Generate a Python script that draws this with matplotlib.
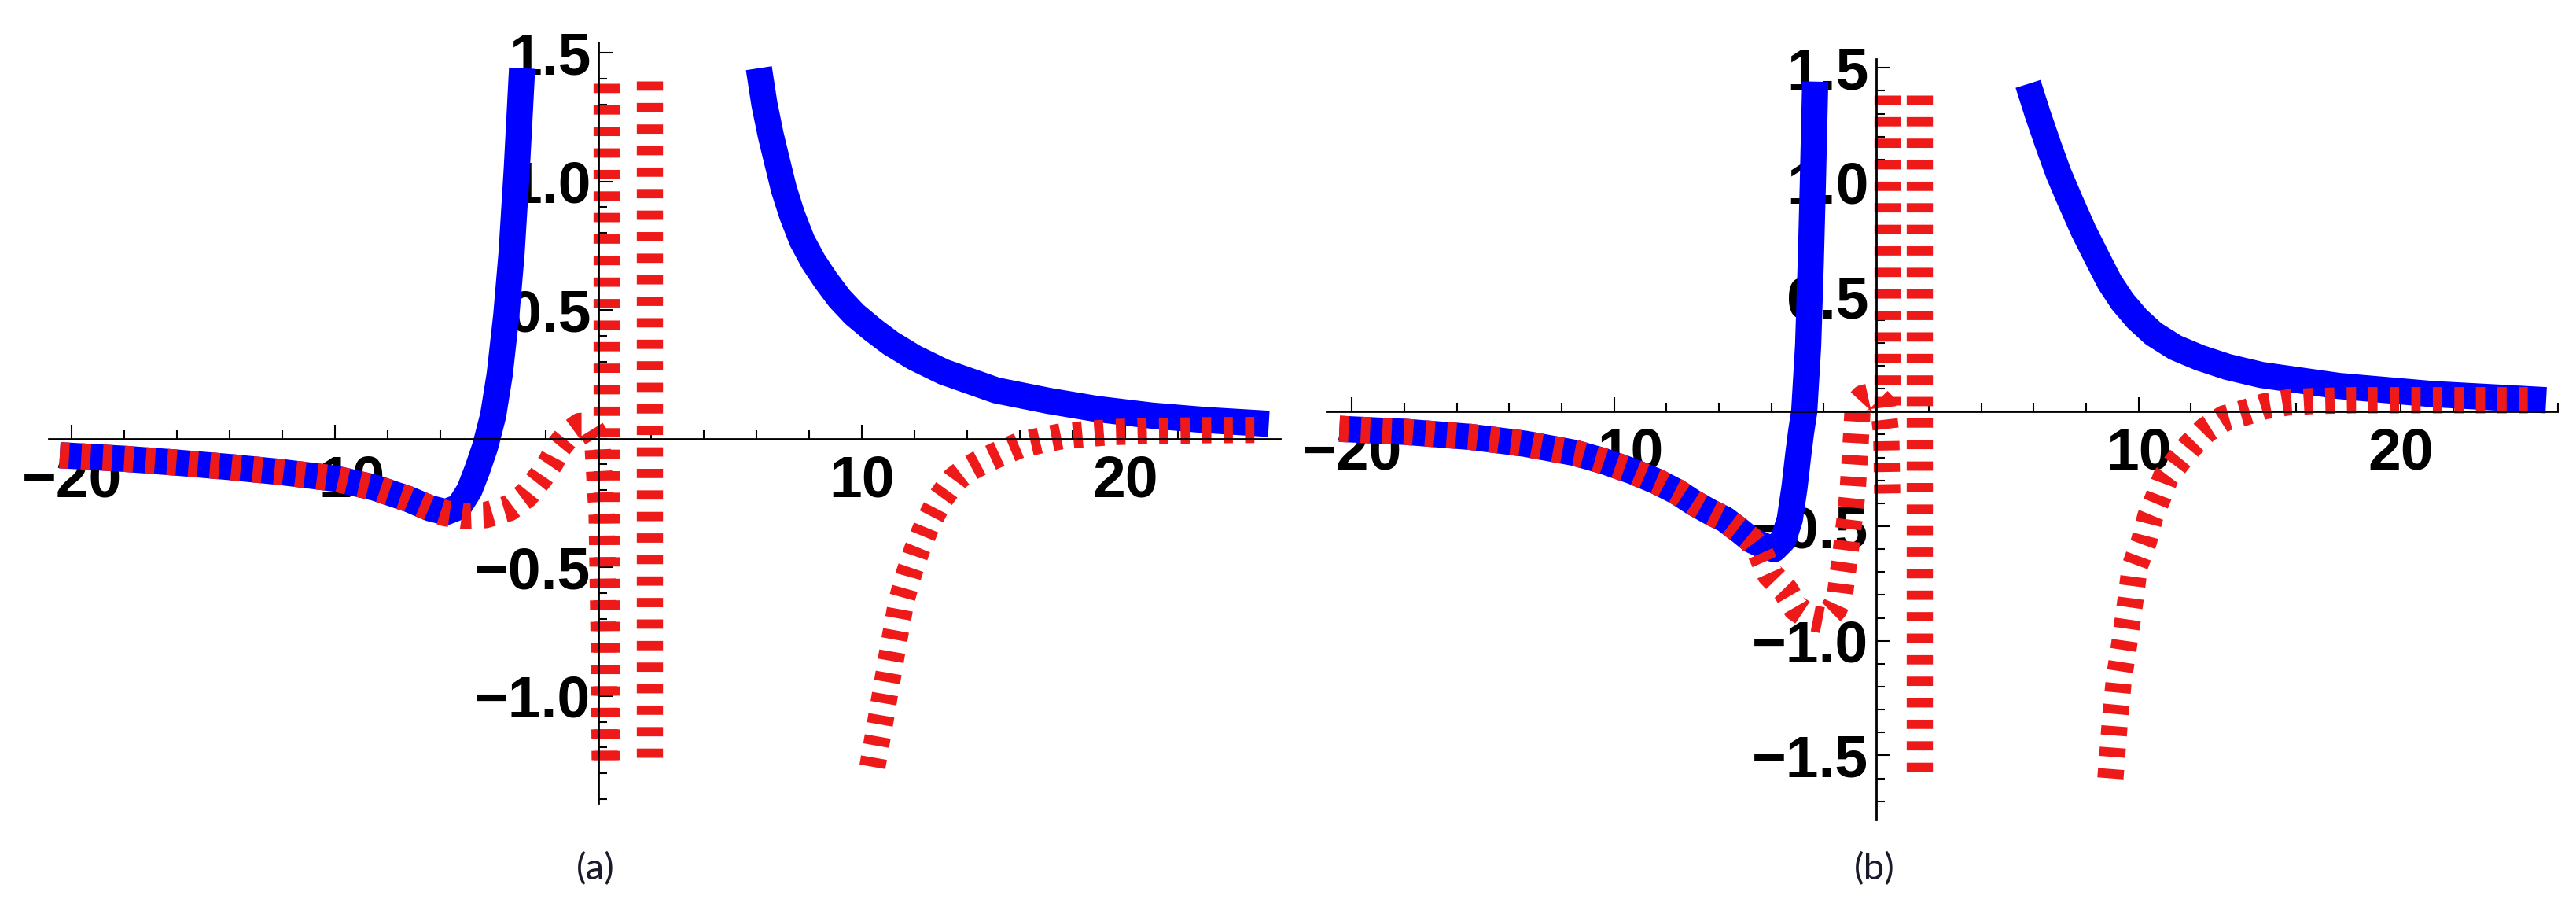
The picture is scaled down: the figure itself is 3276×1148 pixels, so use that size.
import numpy as np
import matplotlib.pyplot as plt
from matplotlib.ticker import FixedLocator, FixedFormatter, MultipleLocator

plt.rcParams['font.family'] = ['Liberation Sans', 'DejaVu Sans']
plt.rcParams['font.weight'] = 'bold'
plt.rcParams['lines.scale_dashes'] = False

# ---- panel (a) data ----
blue_a1_x = [-20.45, -18, -16, -14, -12, -10, -8.5, -7.2, -6.4, -5.8, -5.3, -4.9, -4.6, -4.3, -4.0, -3.75, -3.5, -3.3, -3.1, -2.9]
blue_a1_y = [-0.064, -0.078, -0.093, -0.11, -0.13, -0.155, -0.19, -0.235, -0.27, -0.285, -0.265, -0.2, -0.12, -0.03, 0.09, 0.25, 0.48, 0.72, 1.05, 1.44]
blue_a2_x = [6.09, 6.3, 6.54, 6.8, 7.04, 7.35, 7.73, 8.15, 8.63, 9.15, 9.72, 10.4, 11.1, 12.0, 13.1, 15.1, 17.1, 18.9, 21.0, 23.0, 25.45]
blue_a2_y = [1.44, 1.3, 1.18, 1.07, 0.97, 0.87, 0.77, 0.69, 0.616, 0.545, 0.483, 0.425, 0.371, 0.315, 0.26, 0.188, 0.147, 0.116, 0.09, 0.073, 0.058]

red_a1_x = [-20.45, -18, -16, -14, -12, -10, -8.5, -7.2, -6.4, -5.8, -5.1, -4.3, -3.4, -2.75, -2.2, -1.8,
            -1.5, -1.1, -0.7, -0.35, -0.05, 0.12, 0.2, 0.24]
red_a1_y = [-0.064, -0.078, -0.093, -0.11, -0.13, -0.155, -0.19, -0.235, -0.27, -0.29, -0.30, -0.297, -0.27, -0.22, -0.15, -0.09,
            -0.03, 0.02, 0.05, 0.05, 0.0, -0.3, -0.8, -1.285]
red_a2_x = [0.29, 0.29]
red_a2_y = [1.38, -1.285]
red_a3_x = [1.94, 1.94]
red_a3_y = [1.39, -1.275]
red_a4_x = [10.4, 10.7, 10.95, 11.2, 11.5, 11.8, 12.1, 12.5, 13.0, 13.5, 14.0, 14.55, 15.25, 16.0, 16.8, 17.6, 18.5, 19.5, 21.0, 23.0, 25.0]
red_a4_y = [-1.275, -1.1, -0.95, -0.8, -0.63, -0.52, -0.43, -0.33, -0.23, -0.16, -0.12, -0.09, -0.057, -0.025, -0.006, 0.01, 0.018, 0.026, 0.03, 0.033, 0.034]

# ---- panel (b) data ----
blue_b1_x = [-20.48, -18, -15.5, -13.4, -11.5, -10.4, -9.3, -8.37, -7.6, -6.97, -6.3, -5.77, -5.2, -4.77, -4.3, -3.9,
             -3.55, -3.3, -3.12, -2.98, -2.87, -2.75, -2.6, -2.5, -2.42, -2.33]
blue_b1_y = [-0.075, -0.088, -0.11, -0.14, -0.18, -0.216, -0.26, -0.305, -0.35, -0.397, -0.44, -0.47, -0.52, -0.56, -0.585, -0.6,
             -0.56, -0.47, -0.33, -0.19, -0.09, 0.0, 0.29, 0.65, 1.0, 1.44]
blue_b2_x = [5.79, 6.15, 6.57, 6.95, 7.36, 7.9, 8.45, 8.9, 9.39, 9.95, 10.57, 11.4, 12.34, 13.4, 14.69, 17.65, 21.18, 25.55]
blue_b2_y = [1.43, 1.3, 1.16, 1.04, 0.93, 0.79, 0.665, 0.565, 0.48, 0.405, 0.34, 0.28, 0.235, 0.195, 0.16, 0.112, 0.077, 0.05]

red_b1_x = [-20.48, -18, -15.5, -13.4, -11.5, -10.4, -9.3, -8.37, -7.6, -6.97, -6.3, -5.77, -5.2, -4.77, -4.46, -4.06,
            -3.46, -3.07, -2.5, -2.05, -1.6, -1.4, -1.3, -1.19, -1.0, -0.9, -0.82, -0.76, -0.7, -0.5, -0.1, 0.25, 0.38, 0.42]
red_b1_y = [-0.075, -0.088, -0.11, -0.14, -0.18, -0.216, -0.26, -0.305, -0.35, -0.397, -0.44, -0.47, -0.52, -0.56, -0.606, -0.709,
            -0.78, -0.857, -0.9, -0.91, -0.86, -0.81, -0.72, -0.63, -0.45, -0.34, -0.2, -0.08, 0.035, 0.06, 0.07, 0.03, -0.1, -0.38]
red_b2_x = [0.42, 0.42]
red_b2_y = [1.38, 0.03]
red_b3_x = [1.65, 1.65]
red_b3_y = [1.38, -1.60]
red_b4_x = [8.93, 9.1, 9.25, 9.45, 9.68, 9.86, 10.21, 10.45, 10.74, 11.04, 11.57, 11.98, 12.57, 13.28, 14.0, 14.8, 15.7, 16.6,
            18.2, 20.0, 22.5, 24.85]
red_b4_y = [-1.60, -1.35, -1.17, -1.02, -0.835, -0.675, -0.566, -0.458, -0.378, -0.286, -0.206, -0.149, -0.08, -0.029, -0.006,
            0.023, 0.04, 0.046, 0.05, 0.05, 0.05, 0.05]

xticks = [-20, -10, 10, 20]
xtick_labels = ['\u221220', '\u221210', '10', '20']
yticks_a = [-1.0, -0.5, 0.5, 1.0, 1.5]
ytick_labels_a = ['\u22121.0', '\u22120.5', '0.5', '1.0', '1.5']
yticks_b = [-1.5, -1.0, -0.5, 0.5, 1.0, 1.5]
ytick_labels_b = ['\u22121.5', '\u22121.0', '\u22120.5', '0.5', '1.0', '1.5']

BLUE = '#0000ff'
RED = '#ee1a1a'
LW = 24
DASH = (8.5, 11.2)


def setup_axes(ax, xlim, ylim, yticks, ylabels):
    ax.set_xlim(*xlim)
    ax.set_ylim(*ylim)
    for s in ['top', 'right']:
        ax.spines[s].set_visible(False)
    ax.spines['left'].set_position(('data', 0))
    ax.spines['bottom'].set_position(('data', 0))
    ax.spines['left'].set_linewidth(2)
    ax.spines['bottom'].set_linewidth(2)
    ax.xaxis.set_major_locator(FixedLocator(xticks))
    ax.xaxis.set_major_formatter(FixedFormatter(xtick_labels))
    ax.yaxis.set_major_locator(FixedLocator(yticks))
    ax.yaxis.set_major_formatter(FixedFormatter(ylabels))
    ax.xaxis.set_minor_locator(MultipleLocator(2))
    ax.yaxis.set_minor_locator(MultipleLocator(0.1))
    ax.tick_params(which='major', direction='in', length=13, width=1.5, labelsize=54)
    ax.tick_params(axis='x', which='major', pad=14)
    ax.tick_params(axis='y', which='major', pad=7)
    ax.tick_params(which='minor', direction='in', length=8, width=1.5)
    ax.patch.set_visible(False)


def blue_line(ax, x, y):
    ax.plot(x, y, color=BLUE, lw=LW, solid_capstyle='butt', solid_joinstyle='round', zorder=2)


def red_line(ax, x, y):
    ax.plot(x, y, color=RED, lw=LW, dashes=DASH, dash_capstyle='butt', zorder=2.1)


fig = plt.figure(figsize=(32.76, 11.48), dpi=100)
W, H = 3276, 1148

ax_a = fig.add_axes([62 / W, (H - 1021) / H, (1628 - 62) / W, (1021 - 54) / H])
setup_axes(ax_a, (-20.87, 25.88), (-1.416, 1.54), yticks_a, ytick_labels_a)
blue_line(ax_a, blue_a1_x, blue_a1_y)
blue_line(ax_a, blue_a2_x, blue_a2_y)
red_line(ax_a, red_a1_x, red_a1_y)
red_line(ax_a, red_a2_x, red_a2_y)
red_line(ax_a, red_a3_x, red_a3_y)
red_line(ax_a, red_a4_x, red_a4_y)

ax_b = fig.add_axes([1686.7 / W, (H - 1042) / H, (3253 - 1686.7) / W, (1042 - 74.6) / H])
setup_axes(ax_b, (-20.98, 26.0), (-1.78, 1.54), yticks_b, ytick_labels_b)
blue_line(ax_b, blue_b1_x, blue_b1_y)
blue_line(ax_b, blue_b2_x, blue_b2_y)
red_line(ax_b, red_b1_x, red_b1_y)
red_line(ax_b, red_b2_x, red_b2_y)
red_line(ax_b, red_b3_x, red_b3_y)
red_line(ax_b, red_b4_x, red_b4_y)

fig.text(757 / W, 1 - 1105 / H, '(a)', ha='center', va='center', fontsize=34,
         fontweight='normal', family=['Lato', 'DejaVu Sans'], color='#1a1a2a')
fig.text(2384 / W, 1 - 1105 / H, '(b)', ha='center', va='center', fontsize=34,
         fontweight='normal', family=['Lato', 'DejaVu Sans'], color='#1a1a2a')

fig.savefig('out.png', dpi=100)
